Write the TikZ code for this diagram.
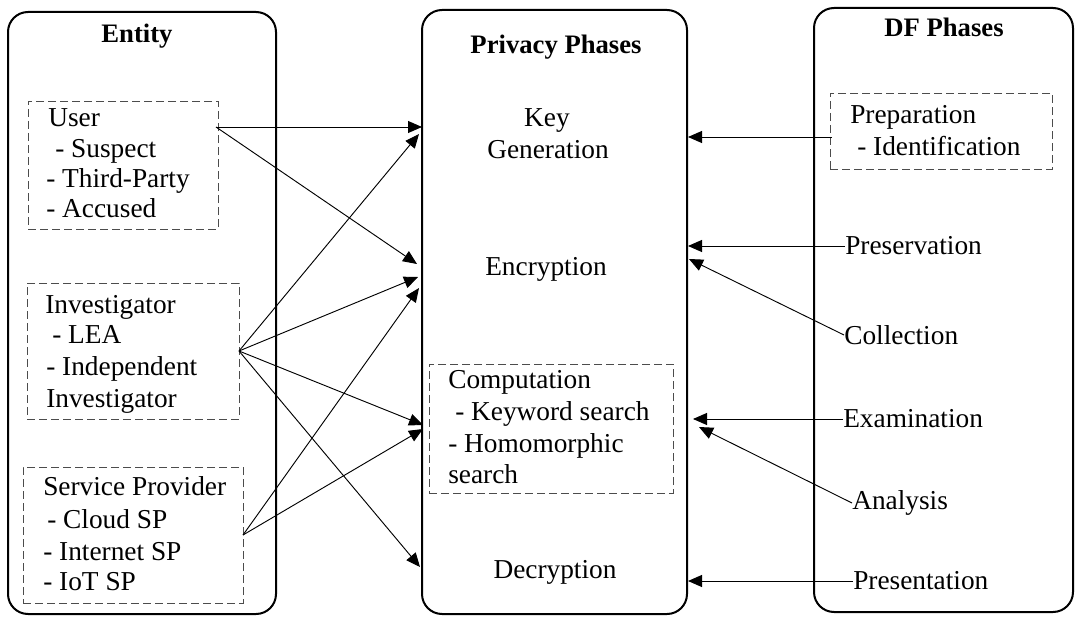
\documentclass[tikz,border=0pt]{standalone}
\usepackage{fontspec}
\setmainfont{Liberation Serif}
\usetikzlibrary{arrows.meta,fit}
\begin{document}
\begin{tikzpicture}[x=0.75pt,y=-0.75pt,
  every node/.style={font=\fontsize{20.5}{24}\selectfont, inner sep=0pt},
  bigbox/.style={draw, line width=1.5pt, rounded corners=15pt, inner sep=0pt},
  dbox/.style={draw=black!70, line width=0.7pt, dash pattern=on 6pt off 3pt, inner sep=0pt},
  ttl/.style={font=\fontsize{20}{24}\selectfont\bfseries, anchor=base},
  ln/.style={anchor=base west},
  ctr/.style={anchor=base},
  conn/.style={line width=0.7pt, -{Triangle[length=10.5pt,width=9pt]}}]
\useasboundingbox (0,0) rectangle (1075,617);
% big boxes
\node[bigbox, fit={(8,12) (276,614)}] (entity) {};
\node[bigbox, fit={(422,10) (687,614)}] (privacy) {};
\node[bigbox, fit={(814,8) (1073,612)}] (df) {};
\node[ttl] (tEntity) at (137,43) {Entity};
\node[ttl] (tPrivacy) at (556,54) {Privacy Phases};
\node[ttl] (tDF) at (944,37) {DF Phases};
% dashed boxes
\node[dbox, fit={(28,101) (218,229)}] (ubox) {};
\node[dbox, fit={(27,283) (239,419)}] (ibox) {};
\node[dbox, fit={(23,467) (243,603)}] (sbox) {};
\node[dbox, fit={(429,364) (673,493)}] (cbox) {};
\node[dbox, fit={(830,93) (1052,169)}] (pbox) {};
% entity texts
\node[ln] (u1) at (48,127) {User};
\node[ln] (u2) at (55,157) {- Suspect};
\node[ln] (u3) at (46,187) {- Third-Party};
\node[ln] (u4) at (46,217) {- Accused};
\node[ln] (i1) at (45,313) {Investigator};
\node[ln] (i2) at (52,343) {- LEA};
\node[ln] (i3) at (46,375) {- Independent};
\node[ln] (i4) at (46,407) {Investigator};
\node[ln] (s1) at (43,495) {Service Provider};
\node[ln] (s2) at (47,528) {- Cloud SP};
\node[ln] (s3) at (43,560) {- Internet SP};
\node[ln] (s4) at (43,590) {- IoT SP};
% privacy texts
\node[ctr] (k1) at (547,127) {Key};
\node[ctr] (k2) at (548,158) {Generation};
\node[ctr] (enc) at (546,275) {Encryption};
\node[ln] (c1) at (448,388) {Computation};
\node[ln] (c2) at (455,420) {- Keyword search};
\node[ln] (c3) at (448,452) {- Homomorphic};
\node[ln] (c4) at (448,483) {search};
\node[ctr] (dec) at (555,578) {Decryption};
% DF texts
\node[ln] (p1) at (850,123) {Preparation};
\node[ln] (p2) at (857,155) {- Identification};
\node[anchor=west] (pres) at (845,246) {Preservation};
\node[anchor=west] (coll) at (844,335) {Collection};
\node[anchor=west] (exam) at (843,419) {Examination};
\node[anchor=west] (anal) at (852,503) {Analysis};
\node[anchor=west] (presn) at (853,581) {Presentation};
% connector endpoints
\coordinate (userP) at (216,127);
\coordinate (invP) at (239,351);
\coordinate (spP) at (243,535);
\coordinate (prepP) at (832,137);
\coordinate (kg1) at (422,127);
\coordinate (kg2) at (419,134);
\coordinate (en1) at (417,264);
\coordinate (en2) at (418,277);
\coordinate (en3) at (419,288);
\coordinate (co1) at (423,425);
\coordinate (co2) at (423,429);
\coordinate (de1) at (420,567);
\coordinate (rkg) at (688,137);
\coordinate (ren1) at (688,246);
\coordinate (ren2) at (689,259);
\coordinate (rco1) at (693,419);
\coordinate (rco2) at (699,427);
\coordinate (rde) at (688,581);
% left connectors
\draw[conn] (userP) -- (kg1);
\draw[conn] (userP) -- (en1);
\draw[conn] (invP) -- (kg2);
\draw[conn] (invP) -- (en2);
\draw[conn] (invP) -- (co1);
\draw[conn] (invP) -- (de1);
\draw[conn] (spP) -- (en3);
\draw[conn] (spP) -- (co2);
% right connectors
\draw[conn] (prepP) -- (rkg);
\draw[conn] (pres.west) -- (ren1);
\draw[conn] (coll.west) -- (ren2);
\draw[conn] (exam.west) -- (rco1);
\draw[conn] (anal.west) -- (rco2);
\draw[conn] (presn.west) -- (rde);
\end{tikzpicture}
\end{document}
